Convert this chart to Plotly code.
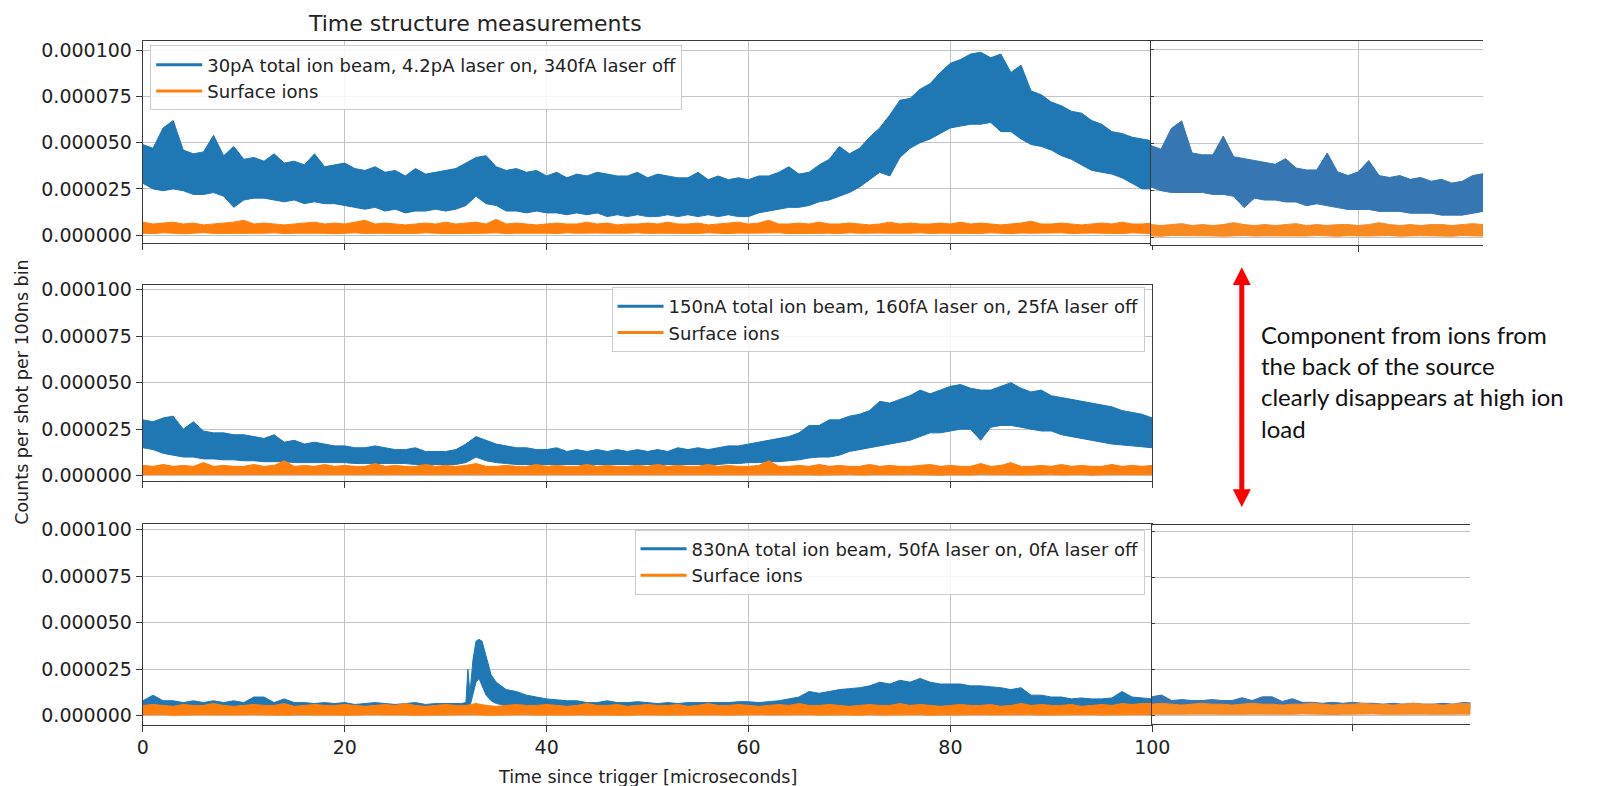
import plotly.graph_objects as go

W, H = 1606, 786
SCALE = 1e-6  # values below are stored in units of 1e-6 counts

# ---------------- data (units of 1e-6) ----------------
t_main = list(range(0, 101))
t_ext = list(range(100, 133))

p1_blue_hi = [49, 47, 58, 62, 46, 44, 45, 54, 43, 48,
              41, 42, 40, 44, 39, 40, 38, 44, 37, 38,
              39, 36, 35, 37, 34, 35, 32, 36, 33, 34,
              35, 36, 39, 42, 43, 37, 35, 36, 34, 35,
              32, 34, 31, 33, 32, 34, 33, 32, 32, 34,
              31, 33, 32, 31, 31, 34, 30, 32, 30, 31,
              30, 32, 32, 34, 37, 33, 34, 38, 41, 48,
              44, 47, 53, 58, 65, 73, 74, 79, 82, 88,
              93, 95, 98, 99, 96, 98, 88, 92, 78, 76,
              72, 70, 67, 66, 62, 60, 56, 55, 53, 52,
              51]
p1_blue_lo = [28, 25, 24, 25, 24, 22, 22, 23, 21, 15,
              19, 20, 20, 19, 18, 19, 17, 18, 17, 17,
              16, 15, 14, 15, 13, 14, 12, 13, 13, 14,
              13, 14, 16, 21, 17, 16, 13, 13, 12, 13,
              12, 12, 11, 12, 11, 12, 10, 11, 10, 11,
              10, 10, 11, 10, 11, 10, 11, 10, 11, 10,
              10, 12, 13, 14, 15, 15, 16, 18, 19, 21,
              23, 26, 30, 34, 32, 42, 47, 50, 52, 55,
              58, 59, 60, 60, 61, 56, 56, 52, 49, 48,
              46, 43, 41, 38, 35, 34, 33, 31, 28, 25,
              25]
p1_orange_hi = [7, 6, 6.5, 7, 6, 6.5, 5.5, 6, 6.5, 7,
                8, 6, 6.5, 6, 5.5, 6, 6.5, 7, 6, 6.5,
                6, 7, 8, 6, 6.5, 6, 5.5, 6, 6.5, 6,
                7, 6, 6.5, 7, 6, 8.5, 6, 6.5, 6, 5.5,
                6, 6.5, 6, 6, 7, 6, 6.5, 5.5, 6, 6,
                6.5, 6, 7, 6, 6, 6.5, 5.5, 6, 6.5, 7,
                6, 6.5, 8, 6, 6, 6.5, 6, 7, 6, 6,
                6.5, 6, 5.5, 6, 7, 6, 6.5, 6, 6, 6.5,
                6, 7, 6, 6.5, 6, 5.5, 6, 6.5, 7.5, 6,
                6, 6.5, 6, 5.5, 6, 6.5, 6, 7, 6, 6,
                6.5]
p1_orange_lo = [1, 0.8, 1.2, 1, 0.7, 1, 1.3, 0.9, 1, 0.8,
                1.1, 0.9, 1, 1.2, 0.8, 1, 0.9, 1.1, 1, 0.7,
                1, 1.2, 0.9, 1, 0.8, 1.1, 1, 0.9, 1.2, 1,
                0.8, 1, 1.1, 0.9, 1, 1.2, 0.8, 1, 0.9, 1.1,
                1, 0.8, 1.2, 1, 0.9, 1.1, 1, 0.8, 1, 1.2,
                0.9, 1, 1.1, 0.8, 1, 0.9, 1.2, 1, 0.8, 1.1,
                1, 0.9, 1, 1.2, 0.8, 1, 1.1, 0.9, 1, 0.8,
                1.2, 1, 0.9, 1.1, 1, 0.8, 1, 1.2, 0.9, 1,
                1.1, 0.8, 1, 0.9, 1.2, 1, 0.8, 1.1, 1, 0.9,
                1, 1.2, 0.8, 1, 1.1, 0.9, 1, 0.8, 1.2, 1,
                0.9]

p2_blue_hi = [30, 29, 31, 32, 25, 29, 24, 23, 23, 22,
              22, 21, 20, 22, 18, 19, 17, 18, 17, 16,
              16, 15, 15, 16, 15, 14, 14, 15, 13, 13,
              13, 14, 17, 21, 19, 17, 16, 15, 15, 14,
              14, 15, 13, 14, 13, 14, 13, 14, 13, 14,
              13, 14, 13, 15, 14, 15, 14, 15, 16, 16,
              17, 18, 19, 20, 21, 23, 27, 27, 30, 30,
              32, 33, 35, 40, 39, 41, 43, 46, 44, 46,
              48, 49, 47, 46, 46, 48, 50, 47, 45, 46,
              43, 42, 41, 40, 39, 38, 37, 35, 34, 33,
              31]
p2_blue_lo = [15, 14, 12, 11, 10, 10, 9, 9, 8.5, 8.5,
              8, 8, 7.5, 7.5, 7.5, 7, 7, 7, 7, 7,
              7, 6.5, 6.5, 6.5, 6.5, 6.5, 6.5, 6, 6, 6,
              6, 6, 7, 10, 8, 7, 6.5, 6, 6, 6,
              6, 6, 6, 6, 6, 6, 6, 6, 6, 6,
              6, 6, 6, 6, 6, 6, 6, 6, 6.5, 6.5,
              7, 7, 7.5, 7.5, 8, 8.5, 9.5, 10, 10, 11,
              13, 14, 15, 16, 17, 18, 19, 21, 23, 23,
              24, 25, 25, 19, 26, 27, 27, 26, 25, 24,
              24, 22, 21, 20, 19, 18, 17, 16.5, 16, 15.5,
              15]
p2_orange_hi = [5.5, 5, 6, 5, 5.5, 5, 7, 5, 5.5, 5,
                5, 6, 5, 5.5, 8, 5, 5.5, 5, 6, 5,
                5.5, 5, 5, 6.5, 5, 5.5, 5, 5, 6, 5,
                5.5, 5, 5.5, 6.5, 5, 5, 5.5, 5, 5, 6,
                5, 5.5, 5, 5, 6, 5, 5.5, 5, 5, 5.5,
                5, 6, 5, 5.5, 5, 5, 6, 5, 5.5, 5,
                5, 5.5, 8, 5, 5, 5.5, 5, 6, 5, 5.5,
                5, 5, 6, 5, 5.5, 5, 5, 5.5, 6, 5,
                5.5, 5, 5, 6.5, 5, 5.5, 7, 5, 5, 5.5,
                5, 6, 5, 5.5, 5, 5, 6, 5, 5.5, 5,
                5.5]
p2_orange_lo = [0.6, 0.4, 0.7, 0.5, 0.6, 0.3, 0.5, 0.7, 0.4, 0.6,
                0.5, 0.7, 0.4, 0.6, 0.5, 0.3, 0.6, 0.5, 0.7, 0.4,
                0.6, 0.5, 0.4, 0.7, 0.5, 0.6, 0.3, 0.5, 0.6, 0.4,
                0.7, 0.5, 0.6, 0.4, 0.5, 0.7, 0.5, 0.4, 0.6, 0.5,
                0.3, 0.6, 0.5, 0.7, 0.4, 0.5, 0.6, 0.5, 0.4, 0.7,
                0.5, 0.6, 0.4, 0.5, 0.7, 0.5, 0.3, 0.6, 0.5, 0.4,
                0.6, 0.5, 0.7, 0.4, 0.6, 0.5, 0.5, 0.3, 0.6, 0.5,
                0.7, 0.4, 0.5, 0.6, 0.5, 0.4, 0.7, 0.5, 0.6, 0.3,
                0.5, 0.6, 0.4, 0.7, 0.5, 0.6, 0.5, 0.4, 0.6, 0.5,
                0.7, 0.4, 0.5, 0.6, 0.3, 0.5, 0.6, 0.5, 0.4, 0.6,
                0.5]

t_p3_blue = [0, 1, 2, 3, 4, 5, 6, 7, 8, 9,
             10, 11, 12, 13, 14, 15, 16, 17, 18, 19,
             20, 21, 22, 23, 24, 25, 26, 27, 28, 29,
             30, 31,
             31.5, 32, 32.2, 32.4, 32.7, 33, 33.3, 33.6, 34, 34.5, 35, 35.5,
             36, 37, 38, 39, 40, 41, 42, 43, 44, 45,
             46, 47, 48, 49, 50, 51, 52, 53, 54, 55,
             56, 57, 58, 59, 60, 61, 62, 63, 64, 65,
             66, 67, 68, 69, 70, 71, 72, 73, 74, 75,
             76, 77, 78, 79, 80, 81, 82, 83, 84, 85,
             86, 87, 88, 89, 90, 91, 92, 93, 94, 95,
             96, 97, 98, 99, 100]
p3_blue_hi = [8, 11, 8, 8, 7, 8, 7, 8, 7, 8,
              7, 10, 10, 7, 9, 7, 7, 6.5, 7, 6.5,
              7, 6, 6.5, 7, 6.5, 6, 6.5, 7, 6, 6.5,
              6.5, 6.5,
              6.5, 7, 25, 12, 30, 40, 41, 40, 32, 22, 18, 16,
              14, 13, 11, 10, 9, 8.5, 8, 8, 7, 7,
              8, 7, 7, 7.5, 7, 6.5, 7, 6.5, 7, 7,
              7, 7, 7, 7.5, 7.5, 7, 7.5, 8, 9, 10,
              13, 12, 13, 14, 14.5, 15, 16, 18, 17, 19,
              18, 20, 18, 17, 17, 17, 16, 16, 15.5, 15,
              14, 15, 11, 11, 10, 10, 9, 9.5, 9, 9,
              9.5, 13, 10, 9.5, 9]
p3_blue_lo = [3, 3, 2.5, 3, 3, 3, 2.5, 3, 3, 3,
              3, 3, 3, 2.5, 3, 3, 3, 3, 2.5, 3,
              3, 3, 3, 3, 2.5, 3, 3, 3, 3, 3,
              3, 3,
              3, 3, 5, 5, 12, 18, 20, 16, 11, 8, 6.5, 6,
              5, 4, 3.5, 3, 3, 3, 3, 3, 3, 3,
              3, 3, 3, 3, 3, 3, 3, 3, 3, 3,
              3, 3, 3, 3, 3, 3, 3, 3, 3.5, 4,
              4.5, 4.5, 5, 5, 5, 5, 5, 5, 5, 5,
              5, 5, 5, 5, 5, 5, 5, 5, 5, 5,
              4.5, 4.5, 4, 4, 3.5, 3.5, 3, 3, 3, 3,
              3, 3, 3, 3, 3]
p3_orange_hi = [5.5, 6, 5.5, 5, 6, 5.5, 5.5, 6.5, 5.5, 5,
                5.5, 6, 5.5, 5.5, 6.5, 5, 5.5, 6, 5.5, 5.5,
                6, 5.5, 5, 5.5, 6, 5.5, 6.5, 5.5, 5, 5.5,
                6, 5.5, 5.5, 6.5, 5.5, 5, 5.5, 6, 5.5, 5.5,
                6, 5.5, 5, 5.5, 6.5, 5.5, 5.5, 6, 5, 5.5,
                6, 5.5, 5.5, 6, 5, 5.5, 6.5, 5.5, 5.5, 6,
                5.5, 5, 5.5, 6, 5.5, 6.5, 5.5, 5.5, 6, 5.5,
                5, 5.5, 6, 5.5, 5.5, 6.5, 5.5, 6, 5.5, 5,
                5.5, 6, 5.5, 5.5, 6, 5, 5.5, 6.5, 5.5, 6,
                5.5, 5.5, 6, 5, 5.5, 6, 5.5, 6.5, 6, 6.5,
                6.5]
p3_orange_lo = [0.4, 0.3, 0.5, 0.2, 0.4, 0.3, 0.5, 0.4, 0.2, 0.3,
                0.4, 0.5, 0.3, 0.4, 0.2, 0.4, 0.3, 0.5, 0.4, 0.3,
                0.2, 0.4, 0.3, 0.5, 0.4, 0.3, 0.4, 0.2, 0.3, 0.5,
                0.4, 0.3, 0.4, 0.5, 0.2, 0.4, 0.3, 0.4, 0.5, 0.3,
                0.4, 0.2, 0.3, 0.4, 0.5, 0.3, 0.4, 0.3, 0.2, 0.4,
                0.5, 0.3, 0.4, 0.3, 0.4, 0.2, 0.5, 0.4, 0.3, 0.4,
                0.3, 0.5, 0.4, 0.2, 0.3, 0.4, 0.5, 0.3, 0.4, 0.3,
                0.4, 0.2, 0.5, 0.3, 0.4, 0.3, 0.4, 0.5, 0.2, 0.4,
                0.3, 0.4, 0.3, 0.5, 0.4, 0.2, 0.3, 0.4, 0.5, 0.3,
                0.4, 0.3, 0.2, 0.4, 0.5, 0.3, 0.4, 0.3, 0.4, 0.5,
                0.4]

e1_blue_hi = [49, 47, 58, 62, 45, 44, 44, 54, 43, 42,
              41, 40, 39, 42, 37, 36, 36, 45, 35, 33,
              35, 41, 33, 32, 33, 31, 32, 30, 31, 29,
              30, 33, 34]
e1_blue_lo = [27, 25, 24, 24, 24, 24, 23, 23, 22, 16,
              21, 20, 20, 19, 19, 17, 18, 17, 16, 15,
              15, 15, 14, 14, 14, 13, 13, 13, 12, 12,
              12, 13, 14]
e1_orange_hi = [7, 6.5, 7, 7.5, 6.5, 7, 6.5, 7, 8, 7,
                6.5, 7, 6.5, 7, 7.5, 6.5, 7, 6.5, 7, 7,
                6.5, 7, 8, 7, 6.5, 7, 6.5, 7, 7, 6.5,
                7, 7.5, 7]
e1_orange_lo = [1, 0.8, 1.2, 1, 0.9, 1.1, 1, 0.8, 1, 1.2,
                0.9, 1, 1.1, 0.8, 1, 0.9, 1.2, 1, 0.8, 1.1,
                1, 0.9, 1, 1.2, 0.8, 1, 1.1, 0.9, 1, 0.8,
                1.2, 1, 0.9]

e3_blue_hi = [10, 11, 8, 8.5, 8, 8, 8.5, 8, 8, 9.5,
              8, 10, 10, 7.5, 9, 7, 7, 6.5, 7, 6.5,
              7, 6.5, 6.5, 6, 6.5, 6, 6.5, 6, 6, 6.5,
              6, 7, 6.5]
e3_blue_lo = [3, 3, 3, 3, 3, 3, 3, 3, 3, 3,
              3, 3, 3, 3, 3, 3, 3, 3, 3, 3,
              3, 3, 3, 3, 3, 3, 3, 3, 3, 3,
              3, 3, 3]
e3_orange_hi = [6, 6.5, 6, 5.5, 6, 6.5, 6, 6, 5.5, 6,
                6.5, 6, 6, 5.5, 6, 6, 6.5, 6, 5.5, 6,
                6, 6.5, 6, 6, 5.5, 6, 6.5, 6, 6, 5.5,
                6, 6.5, 6]
e3_orange_lo = [0.6, 0.5, 0.7, 0.5, 0.6, 0.4, 0.6, 0.5, 0.7, 0.5,
                0.6, 0.5, 0.4, 0.6, 0.5, 0.7, 0.5, 0.6, 0.4, 0.5,
                0.6, 0.5, 0.7, 0.5, 0.6, 0.4, 0.5, 0.6, 0.5, 0.7,
                0.5, 0.6, 0.5]

legend_labels = [
    "30pA total ion beam, 4.2pA laser on, 340fA laser off",
    "150nA total ion beam, 160fA laser on, 25fA laser off",
    "830nA total ion beam, 50fA laser on, 0fA laser off",
]
surface_label = "Surface ions"
y_ticks_e6 = [0, 25, 50, 75, 100]
x_ticks = [0, 20, 40, 60, 80, 100]

BLUE = "#1f77b4"
ORANGE = "#ff7f0e"
BLUE_EXT = "#3676b2"
ORANGE_EXT = "#f88a22"
FONT = "DejaVu Sans"

# horizontal calibration of the rendered page (measured from previous render)
XA, XB = 0.9857, 4.7


def fx(px):
    return (px - XB) / (XA * W)


def fy(py):
    return 1 - py / H


fig = go.Figure()


def band(t, hi, lo, color, xa, ya):
    xs = list(t) + list(t)[::-1]
    ys = [v * SCALE for v in hi] + [v * SCALE for v in lo][::-1]
    fig.add_trace(go.Scatter(
        x=xs, y=ys, mode="lines", fill="toself", fillcolor=color,
        line=dict(color=color, width=1), xaxis=xa, yaxis=ya,
        showlegend=False, hoverinfo="skip"))


def legend_entry(name, color, legend, xa, ya, group):
    fig.add_trace(go.Scatter(
        x=[None], y=[None], mode="lines", name=name,
        line=dict(color=color, width=3), legend=legend,
        legendgroup=group, xaxis=xa, yaxis=ya, showlegend=True))


# panel 1 (main + extension)
band(t_main, p1_blue_hi, p1_blue_lo, BLUE, "x", "y")
band(t_main, p1_orange_hi, p1_orange_lo, ORANGE, "x", "y")
band(t_ext, e1_blue_hi, e1_blue_lo, BLUE_EXT, "x2", "y2")
band(t_ext, e1_orange_hi, e1_orange_lo, ORANGE_EXT, "x2", "y2")
# panel 2
band(t_main, p2_blue_hi, p2_blue_lo, BLUE, "x3", "y3")
band(t_main, p2_orange_hi, p2_orange_lo, ORANGE, "x3", "y3")
# panel 3 (main + extension)
band(t_p3_blue, p3_blue_hi, p3_blue_lo, BLUE, "x4", "y4")
band(t_main, p3_orange_hi, p3_orange_lo, ORANGE, "x4", "y4")
band(t_ext, e3_blue_hi, e3_blue_lo, BLUE_EXT, "x5", "y5")
band(t_ext, e3_orange_hi, e3_orange_lo, ORANGE_EXT, "x5", "y5")

legend_entry(legend_labels[0], BLUE, "legend", "x", "y", "a1")
legend_entry(surface_label, ORANGE, "legend", "x", "y", "b1")
legend_entry(legend_labels[1], BLUE, "legend2", "x3", "y3", "a2")
legend_entry(surface_label, ORANGE, "legend2", "x3", "y3", "b2")
legend_entry(legend_labels[2], BLUE, "legend3", "x4", "y4", "a3")
legend_entry(surface_label, ORANGE, "legend3", "x4", "y4", "b3")

SPINE = "#3a3a3a"
GRID = "#c4c4c4"
TICKFONT = dict(family=FONT, size=19, color="#222")

# (x domain px, y domain px top/bottom, x range, y range in 1e-6)
panels = {
    "1": dict(xd=(141.7, 1151.7), yd=(36, 240), xr=(0, 100), yr=(-4.1, 104.8), main=True, xlabels=False),
    "2": dict(xd=(1150, 1482.7), yd=(35.7, 242.7), xr=(100, 132), yr=(-4.0, 104.3), main=False),
    "3": dict(xd=(141.7, 1151.7), yd=(282.7, 481.7), xr=(0, 100), yr=(-2.86, 102.65), main=True, xlabels=False),
    "4": dict(xd=(141.7, 1151.7), yd=(525, 728.7), xr=(0, 100), yr=(-4.77, 103.2), main=True, xlabels=True),
    "5": dict(xd=(1151, 1470), yd=(526.7, 728), xr=(100, 131.7), yr=(-4.66, 103.2), main=False),
}

layout = dict(
    width=W, height=H, autosize=False,
    margin=dict(l=0, r=0, t=0, b=0),
    paper_bgcolor="white", plot_bgcolor="white",
    font=dict(family=FONT, size=18, color="#222"),
)

for k, p in panels.items():
    xa = "xaxis" if k == "1" else f"xaxis{k}"
    ya = "yaxis" if k == "1" else f"yaxis{k}"
    yid = "y" if k == "1" else f"y{k}"
    xid = "x" if k == "1" else f"x{k}"
    if p["main"]:
        xt = x_ticks
        xlab = p["xlabels"]
    else:
        xt = [120]
        xlab = False
    layout[xa] = dict(
        domain=[fx(p["xd"][0]), fx(p["xd"][1])], range=list(p["xr"]),
        anchor=yid, tickvals=xt, showticklabels=xlab, ticks="outside",
        ticklen=6, tickwidth=1, tickcolor=SPINE, tickfont=TICKFONT,
        showgrid=True, gridcolor=GRID, gridwidth=1, zeroline=False,
        showline=True, linecolor=SPINE, linewidth=1.3, mirror=True,
        fixedrange=True)
    layout[ya] = dict(
        domain=[fy(p["yd"][1]), fy(p["yd"][0])],
        range=[p["yr"][0] * SCALE, p["yr"][1] * SCALE],
        anchor=xid, tickvals=[v * SCALE for v in y_ticks_e6],
        tickformat=".6f", showticklabels=p["main"],
        ticks="outside" if p["main"] else "inside",
        ticklen=6 if p["main"] else 3, tickwidth=1, tickcolor=SPINE,
        tickfont=TICKFONT, showgrid=True, gridcolor=GRID, gridwidth=1,
        zeroline=False, showline=True, linecolor=SPINE, linewidth=1.3,
        mirror=p["main"], fixedrange=True)

leg_common = dict(
    bgcolor="rgba(255,255,255,0.85)", bordercolor="#cccccc", borderwidth=1,
    font=dict(family=FONT, size=18, color="#222"),
    traceorder="grouped", tracegroupgap=0, itemwidth=46,
)
layout["legend"] = dict(x=fx(149), y=fy(40), xanchor="left", yanchor="top", **leg_common)
layout["legend2"] = dict(x=fx(1144), y=fy(285), xanchor="right", yanchor="top", **leg_common)
layout["legend3"] = dict(x=fx(1144), y=fy(531), xanchor="right", yanchor="top", **leg_common)

annotations = [
    dict(text="Time structure measurements", x=fx(474), y=fy(18),
         xref="paper", yref="paper", xanchor="center", yanchor="middle",
         showarrow=False, font=dict(family=FONT, size=22, color="#222")),
    dict(text="Time since trigger [microseconds]", x=fx(646.7), y=fy(782),
         xref="paper", yref="paper", xanchor="center", yanchor="middle",
         showarrow=False, font=dict(family=FONT, size=17.5, color="#222")),
    dict(text="Counts per shot per 100ns bin", x=fx(20.5), y=fy(391.5),
         xref="paper", yref="paper", xanchor="center", yanchor="middle",
         textangle=-90, showarrow=False,
         font=dict(family=FONT, size=17.5, color="#222")),
    dict(text="Component from ions from<br>the back of the source<br>clearly disappears at high ion<br>load",
         x=fx(1259), y=fy(381), xref="paper", yref="paper",
         xanchor="left", yanchor="middle", align="left", showarrow=False,
         font=dict(family="Lato", size=24, color="#111")),
]
layout["annotations"] = annotations

ax = 1241.3
shapes = [
    dict(type="line", xref="paper", yref="paper", x0=fx(ax), x1=fx(ax),
         y0=fy(280), y1=fy(493), line=dict(color="#ff0000", width=5)),
    dict(type="path", xref="paper", yref="paper",
         path=f"M {fx(ax)} {fy(265)} L {fx(ax - 9)} {fy(283)} L {fx(ax + 9)} {fy(283)} Z",
         fillcolor="#ff0000", line=dict(color="#ff0000", width=0)),
    dict(type="path", xref="paper", yref="paper",
         path=f"M {fx(ax)} {fy(508)} L {fx(ax - 9)} {fy(490)} L {fx(ax + 9)} {fy(490)} Z",
         fillcolor="#ff0000", line=dict(color="#ff0000", width=0)),
]
layout["shapes"] = shapes

fig.update_layout(**layout)
fig.write_html("out.html")
